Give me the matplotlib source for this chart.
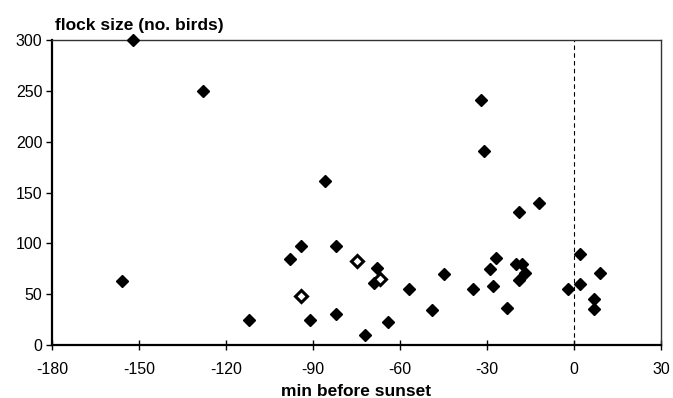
import matplotlib
matplotlib.use('Agg')
import matplotlib.pyplot as plt

plt.rcParams['font.family'] = ['Liberation Sans', 'DejaVu Sans']
plt.rcParams['axes.unicode_minus'] = False

# flocks (filled markers)
min_before = [-156, -152, -128, -112, -98, -94, -91, -86, -82, -82,
              -72, -69, -68, -64, -57, -49, -45, -35, -32, -31,
              -29, -28, -27, -23, -20, -18, -19, -19, -17, -12,
              -2, 2, 2, 7, 7, 9]
flock_size = [63, 300, 250, 25, 85, 97, 25, 161, 97, 31,
              10, 61, 76, 23, 55, 34, 70, 55, 241, 191,
              75, 58, 86, 36, 80, 80, 131, 64, 71, 140,
              55, 90, 60, 45, 35, 71]

# open markers
min_before_open = [-94, -75, -67]
flock_size_open = [48, 83, 65]

fig = plt.figure(figsize=(6.73, 3.98), dpi=100)
ax = fig.add_axes([0.0773, 0.133, 0.905, 0.7665])

ax.plot(min_before, flock_size, linestyle='none', marker='D', markersize=6.5,
        color='black', zorder=3, clip_on=False)
ax.plot(min_before_open, flock_size_open, linestyle='none', marker='D', markersize=6.5,
        markerfacecolor='white', markeredgecolor='black', markeredgewidth=2.2,
        zorder=3, clip_on=False)

ax.axvline(0, color='black', linestyle=(0, (4, 3)), linewidth=0.8, zorder=2)

ax.set_xlim(-180, 30)
ax.set_ylim(0, 300)
ax.set_xticks(range(-180, 31, 30))
ax.set_yticks(range(0, 301, 50))

for s in ['left', 'bottom']:
    ax.spines[s].set_linewidth(1.6)
for s in ['top', 'right']:
    ax.spines[s].set_linewidth(1.0)
    ax.spines[s].set_color('#333333')

ax.tick_params(axis='x', direction='inout', length=7, width=1, labelsize=11.5, pad=9)
ax.tick_params(axis='y', direction='out', length=4, width=1, labelsize=11.5, pad=3)

ax.set_xlabel('min before sunset', fontsize=12.5, fontweight='bold', labelpad=5)
fig.text(0.082, 0.937, 'flock size (no. birds)', fontsize=12.5, fontweight='bold',
         ha='left', va='center')

plt.savefig('out.png', dpi=100)
